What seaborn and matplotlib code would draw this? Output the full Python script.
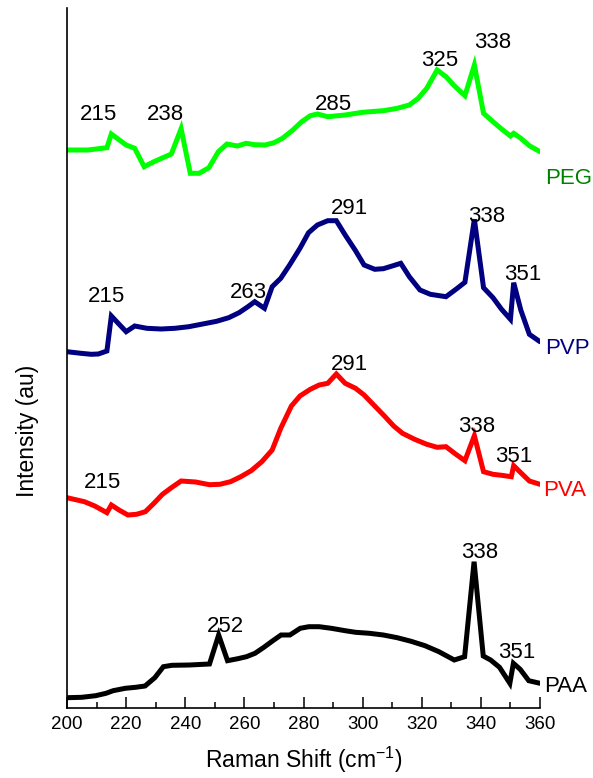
import numpy as np
import pandas as pd
import matplotlib
matplotlib.use("Agg")
import matplotlib.pyplot as plt
from matplotlib.ticker import MultipleLocator
import seaborn as sns

# ---------------- data ----------------
peg_x = [200, 207.1, 213.5, 215, 220, 222.9, 226.1, 229.4, 235.3, 238.6, 241.7, 244.7, 248,
         251.2, 254.1, 257.6, 260.6, 263.5, 267, 270, 272.9, 276.4, 279.4, 282.3, 284.7, 288.2,
         294.1, 300, 307, 311.7, 315.8, 318.8, 321.7, 325.2, 328.2, 331.1, 334.6, 337.8, 340.9,
         344.1, 347, 350, 351.1, 353.5, 356.4, 360]
peg_y = [558, 558, 560.3, 574, 563, 559.7, 541.3, 546.3, 554, 579.3, 534.7, 534.7, 540.3,
         556.3, 564, 562, 564.7, 563.3, 563, 565.3, 569.7, 578, 586.3, 592.3, 594, 591.3,
         593, 595.7, 597.3, 599.7, 603, 609.7, 619.7, 638, 631.3, 622, 612.3, 643, 594.7,
         586.3, 579, 572, 574.7, 569.7, 562.3, 556.3]

pvp_x = [200, 204.7, 208.2, 210.6, 213.5, 215, 220, 222.9, 227, 231.8, 236.5, 241.2, 245.9,
         250.6, 254.7, 258.2, 261.2, 263.5, 266.8, 269.4, 272.3, 275.3, 278.8, 281.7, 284.7,
         288.2, 291.1, 294.1, 297.6, 300.5, 304.1, 307, 310, 312.9, 315.8, 319.4, 322.9, 328.2,
         331.7, 334.6, 337.8, 340.9, 344.1, 347, 350, 351.1, 353.5, 356.4, 360]
pvp_y = [356.3, 354.7, 353.7, 354, 357, 392, 376.3, 382, 379.7, 379, 379.7, 381.3, 384,
         386.7, 390.3, 395.3, 401.3, 406.3, 399.7, 421.3, 429.7, 443, 459.7, 475.3, 483,
         487.3, 487.3, 473, 457.3, 443, 438.7, 439.3, 442, 444.7, 431.3, 418, 413.7, 411.3,
         419, 425.7, 488.7, 420.3, 410.3, 398.7, 388.7, 425.3, 398, 373.7, 366.3]

pva_x = [200, 205.9, 209.4, 213.5, 215, 217.6, 220.6, 223.5, 226.5, 229.4, 232.3, 235.3, 238.6,
         243.5, 248.2, 251.7, 255.3, 258.8, 262.3, 265.9, 269.4, 272.3, 275.9, 278.8, 282.3,
         285.3, 288.2, 291.1, 294.1, 297.6, 300.5, 304.1, 307.6, 310.5, 313.5, 317.6, 321.7,
         325.2, 328.2, 331.1, 334.6, 337.8, 340.9, 344.1, 347, 350.3, 351.1, 353.5, 356.4, 360]
pva_y = [210.3, 206.3, 202, 195.3, 203, 198, 193, 193.7, 196.3, 204.7, 213.7, 220.3, 227,
         226, 223.3, 223.7, 226.3, 231.3, 237.3, 246.3, 258, 279.7, 302, 312, 318.7,
         323, 324.7, 334, 324.7, 319.7, 313, 302, 291.3, 282, 274.7, 268.7, 263.7,
         260.7, 261.3, 254.7, 247.3, 272.3, 236.3, 233.7, 232.7, 231.3, 242.3, 235.3, 227, 223.7]

paa_x = [200, 205, 209.7, 213.2, 215.6, 219.7, 223.2, 226.4, 229.7, 232.6, 235.5, 241.4, 248.2,
         251.3, 254.3, 257.8, 260.7, 263.6, 266.6, 269.5, 272.4, 275.4, 278.9, 281.8, 285.3,
         289.4, 294.1, 297.6, 302.3, 307, 311.7, 316.4, 321.1, 325.8, 331, 334.5, 337.7, 340.8,
         343.3, 346.3, 349.8, 351, 353.3, 356.2, 360]
paa_y = [10.3, 10.7, 12.3, 14.7, 17.3, 19.7, 20.7, 22, 30.3, 41.3, 42.7, 43, 44,
         73, 47.3, 49.3, 51.3, 54.7, 60.7, 67, 73, 73, 79.7, 81.3, 81.3,
         79.7, 77.3, 75.7, 74.7, 73, 70.3, 66.7, 62.3, 56.3, 48, 51.3, 146.3, 52,
         48, 40.7, 24.7, 44.7, 38.7, 27.3, 24.7]

series_names = ["PEG", "PVP", "PVA", "PAA"]
x_ticks = [200, 220, 240, 260, 280, 300, 320, 340, 360]

# peak labels: (text, x, y)
peak_labels = [
    ("215", 210.6, 593), ("238", 233.3, 593), ("285", 290.0, 604), ("325", 326.1, 648),
    ("338", 344.1, 665),
    ("215", 213.5, 411), ("263", 261.4, 415), ("291", 295.5, 499), ("338", 342.1, 491),
    ("351", 354.3, 433),
    ("215", 212.0, 226), ("291", 295.5, 344), ("338", 338.5, 282), ("351", 351.1, 252),
    ("252", 253.7, 81), ("338", 339.5, 155), ("351", 352.1, 55),
]
name_labels = [("PEG", 361.6, 530), ("PVP", 361.6, 360), ("PVA", 361.1, 218), ("PAA", 361.5, 21)]

# ---------------- styling ----------------
line_colors = {"PEG": "#00FF00", "PVP": "#000080", "PVA": "#FF0000", "PAA": "#000000"}
name_colors = {"PEG": "#008000", "PVP": "#000080", "PVA": "#FF0000", "PAA": "#000000"}

sns.set_theme(style="ticks")
plt.rcParams["font.family"] = ["Liberation Sans", "DejaVu Sans"]
plt.rcParams["mathtext.fontset"] = "custom"
plt.rcParams["mathtext.rm"] = "Liberation Sans"
plt.rcParams["mathtext.it"] = "Liberation Sans:italic"
plt.rcParams["mathtext.bf"] = "Liberation Sans:bold"

fig = plt.figure(figsize=(5.93, 7.78), dpi=100)
ax = fig.add_axes([67 / 593, 70 / 778, 473 / 593, 700 / 778])

frames = []
for name, xs, ys in [("PEG", peg_x, peg_y), ("PVP", pvp_x, pvp_y),
                     ("PVA", pva_x, pva_y), ("PAA", paa_x, paa_y)]:
    frames.append(pd.DataFrame({"shift": xs, "intensity": ys, "sample": name}))
df = pd.concat(frames, ignore_index=True)

for name in series_names:
    sub = df[df["sample"] == name]
    sns.lineplot(data=sub, x="shift", y="intensity", ax=ax, color=line_colors[name],
                 linewidth=3.6, sort=False, estimator=None, legend=False,
                 solid_joinstyle="miter")

for txt, x, y in peak_labels:
    ax.text(x, y, txt, ha="center", va="center", fontsize=16, color="black")
for txt, x, y in name_labels:
    ax.text(x, y, txt, ha="left", va="center", fontsize=16, color=name_colors[txt],
            clip_on=False)

ax.set_xlim(200, 360)
ax.set_ylim(0, 700)
ax.set_xticks(x_ticks)
ax.set_xticklabels([str(t) for t in x_ticks])
ax.xaxis.set_minor_locator(MultipleLocator(10))
ax.set_yticks([])
ax.tick_params(axis="x", which="major", direction="in", length=8, width=1.1,
               labelsize=13.5, pad=6, color="black", labelcolor="black")
ax.tick_params(axis="x", which="minor", direction="in", length=4, width=1.1, color="black")

for s in ["top", "right"]:
    ax.spines[s].set_visible(False)
for s in ["left", "bottom"]:
    ax.spines[s].set_color("black")
    ax.spines[s].set_linewidth(1.2)

ax.set_xlabel("Raman Shift (cm$^{\\mathrm{-1}}$)", fontsize=16.5, color="black", labelpad=8)
ax.set_ylabel("Intensity (au)", fontsize=16.5, color="black")
ax.yaxis.set_label_coords(-0.059, (708 - 431) / 700)

fig.savefig("out.png", dpi=100, facecolor="white")
